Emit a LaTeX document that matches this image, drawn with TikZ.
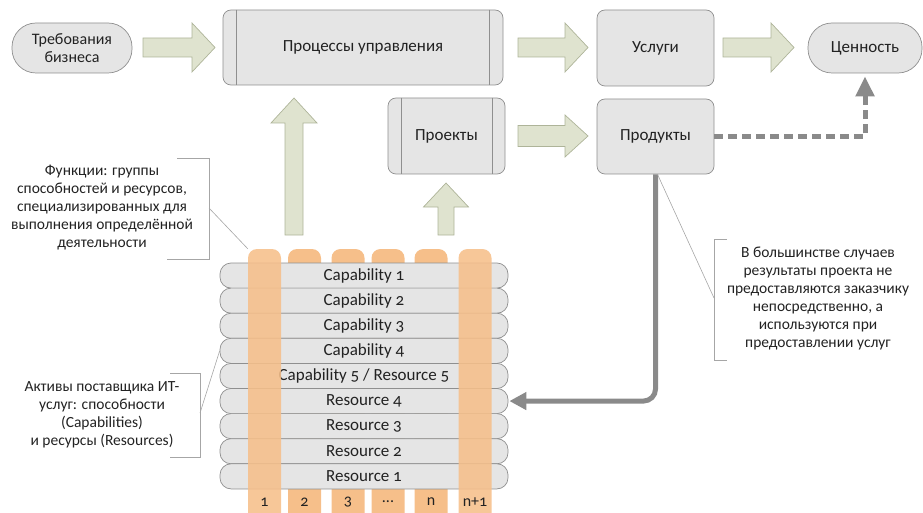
\documentclass[tikz,border=0pt]{standalone}
\usepackage{fontspec}
\setmainfont{Carlito}[Numbers=OldStyle]
\usetikzlibrary{arrows.meta,calc}

\definecolor{boxfill}{HTML}{E5E5E5}
\definecolor{boxline}{HTML}{8F8F8F}
\definecolor{arrfill}{HTML}{DFE3CF}
\definecolor{arrline}{HTML}{AEB499}
\definecolor{flowgray}{HTML}{8A8A8A}
\definecolor{notegray}{HTML}{A6A6A6}
\definecolor{colorange}{HTML}{F6BF8A}
\definecolor{txt}{HTML}{222222}

% horizontal block arrow: x-start, x-end, y-centre, shaft half, head half, head length
\newcommand\hblock[6]{%
  \draw[blockarrow] (#1,{#3-#4}) -- ({#2-#6},{#3-#4}) -- ({#2-#6},{#3-#5})
    -- (#2,#3) -- ({#2-#6},{#3+#5}) -- ({#2-#6},{#3+#4}) -- (#1,{#3+#4}) -- cycle;}
% vertical block arrow pointing up: x-centre, y-bottom, y-tip, shaft half, head half, head length
\newcommand\vblock[6]{%
  \draw[blockarrow] ({#1-#4},#2) -- ({#1-#4},{#3+#6}) -- ({#1-#5},{#3+#6})
    -- (#1,#3) -- ({#1+#5},{#3+#6}) -- ({#1+#4},{#3+#6}) -- ({#1+#4},#2) -- cycle;}

\tikzset{
  every node/.style={font=\fontsize{17}{18}\selectfont, text=txt},
  procbox/.style={draw=boxline, fill=boxfill, line width=0.7pt, rounded corners=8pt,
    inner sep=0pt, align=center},
  pillbox/.style={procbox, rounded corners=24pt},
  blockarrow/.style={draw=arrline, fill=arrfill, line width=0.7pt},
  rowbox/.style={draw=boxline, fill=boxfill, line width=0.7pt, rounded corners=11pt,
    minimum width=288pt, minimum height=25.1pt, inner sep=0pt},
  colbar/.style={fill=colorange, rounded corners=9pt, minimum width=33pt,
    minimum height=276pt, inner sep=0pt},
  collabel/.style={font=\fontsize{16}{16}\selectfont},
  note/.style={align=center, font=\fontsize{15.5}{18}\selectfont},
  noteline/.style={draw=notegray, line width=0.6pt},
  flow/.style={draw=flowgray, line width=5pt},
}

\begin{document}
\begin{tikzpicture}[x=1pt, y=-1pt]
\useasboundingbox (0,0) rectangle (923,513);

% main flow
\node[pillbox, minimum width=120pt, minimum height=50pt,
  font=\fontsize{16}{18}\selectfont] (req) at (72,48) {Требования\\бизнеса};
\node[procbox, minimum width=280pt, minimum height=75pt] (proc) at (363,47.5) {Процессы управления};
\draw[boxline, line width=0.7pt] ([xshift=14pt]proc.north west) -- ([xshift=14pt]proc.south west);
\draw[boxline, line width=0.7pt] ([xshift=-14pt]proc.north east) -- ([xshift=-14pt]proc.south east);
\node[procbox, minimum width=117pt, minimum height=76pt] (serv) at (655.5,48) {Услуги};
\node[pillbox, minimum width=114pt, minimum height=50pt] (val) at (865,48) {Ценность};
\node[procbox, minimum width=117pt, minimum height=76pt] (proj) at (446.5,136) {Проекты};
\draw[boxline, line width=0.7pt] ([xshift=14pt]proj.north west) -- ([xshift=14pt]proj.south west);
\draw[boxline, line width=0.7pt] ([xshift=-13pt]proj.north east) -- ([xshift=-13pt]proj.south east);
\node[procbox, minimum width=117pt, minimum height=75pt] (prod) at (655.5,136.5) {Продукты};

% block arrows
\hblock{143}{215}{47.5}{9.5}{24.5}{23}
\hblock{518}{588}{47.5}{9.5}{24.5}{23}
\hblock{723}{794}{47.5}{9.5}{24.5}{23}
\hblock{518}{588}{136}{10.5}{21}{23}
\vblock{294}{235}{98}{9}{23}{25}
\vblock{446}{235}{183}{8}{22.5}{24}

% products feed value (dashed)
\draw[flow, dash pattern=on 9pt off 5pt, shorten >=3pt,
  -{Triangle[width=18pt,length=20pt]}] (prod.east) -| (val.south);

% columns behind the rows
\foreach \cx/\nm/\lab in {304.5/c2/2, 348/c3/3, 388/c4/{...}, 431/c5/n}{
  \node[colbar] (\nm) at (\cx,387) {};
  \node[collabel] at (\cx,502) {\lab};
}

% capability / resource rows
\foreach \lab [count=\i] in {Capability 1, Capability 2, Capability 3, Capability 4,
    {Capability 5 / Resource 5}, Resource 4, Resource 3, Resource 2, Resource 1}{
  \node[rowbox] (r\i) at (364,{263+25.1*(\i-1)+12.55}) {\lab};
}

% columns in front of the rows
\node[colbar, fill opacity=0.88] (c1) at (264.5,387) {};
\node[colbar, fill opacity=0.88] (c6) at (475,387) {};
\node[collabel] at (264.5,502) {1};
\node[collabel] at (475,502) {n+1};

% products are used when providing services
\draw[flow, rounded corners=12pt, -{Triangle[width=17pt,length=17pt]}]
  (prod.south) |- ([xshift=1pt]r6.east);

% note: functions
\node[note] (fnote) at (102,208) {Функции: группы\\способностей и ресурсов,\\специализированных для\\выполнения определённой\\деятельности};
\coordinate (fb) at (209,208);
\draw[noteline] (177,158) -- (209,158) -- (209,259) -- (167,259);
\draw[noteline] (fb) -- (c1.north west);

% note: assets
\node[note] (anote) at (102,415) {Активы поставщика ИТ-\\услуг: способности\\(Capabilities)\\и ресурсы (Resources)};
\coordinate (ab) at (200,413);
\draw[noteline] (170,373) -- (200,373) -- (200,457) -- (170,457);
\draw[noteline] (ab) -- (r4.west);

% note: projects results
\node[note] (pnote) at (818,298.5) {В большинстве случаев\\результаты проекта не\\предоставляются заказчику\\непосредственно, а\\используются при\\предоставлении услуг};
\coordinate (pb) at (714,298);
\draw[noteline] (727,239) -- (714,239) -- (714,360) -- (727,360);
\draw[noteline] ([xshift=2pt]prod.south) -- (pb);
\end{tikzpicture}
\end{document}
